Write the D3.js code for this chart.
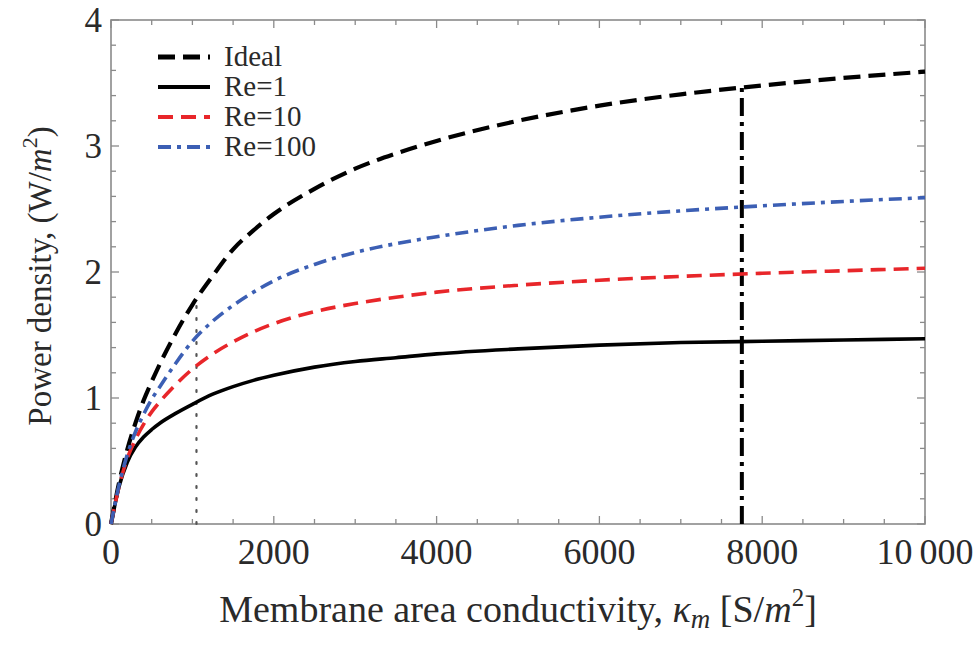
<!DOCTYPE html>
<html>
<head>
<meta charset="utf-8">
<script src="https://cdn.jsdelivr.net/npm/d3@7"></script>
<style>
  html, body { margin: 0; padding: 0; background: #fff; }
  svg { display: block; }
  text { font-family: "Liberation Serif", "DejaVu Serif", serif; fill: #2a2a2a; }
</style>
</head>
<body>
<svg id="chart" width="979" height="646"></svg>
<script>
// ---- data ----
const conductivity = [0, 100, 200, 300, 400, 500, 600, 800, 1000, 1250, 1500, 1750, 2000, 2500, 3000, 3500, 4000, 5000, 6000, 7000, 8000, 9000, 10000];
const ideal   = [0, 0.33, 0.59, 0.80, 0.98, 1.13, 1.27, 1.52, 1.74, 1.97, 2.18, 2.33, 2.46, 2.66, 2.82, 2.94, 3.04, 3.20, 3.32, 3.41, 3.48, 3.54, 3.59];
const re1     = [0, 0.30, 0.49, 0.61, 0.69, 0.75, 0.80, 0.88, 0.95, 1.03, 1.09, 1.14, 1.18, 1.245, 1.29, 1.32, 1.35, 1.39, 1.42, 1.44, 1.45, 1.46, 1.47];
const re10    = [0, 0.30, 0.52, 0.67, 0.79, 0.89, 0.97, 1.11, 1.23, 1.35, 1.445, 1.525, 1.59, 1.685, 1.75, 1.80, 1.84, 1.895, 1.935, 1.965, 1.99, 2.01, 2.03];
const re100   = [0, 0.31, 0.55, 0.73, 0.87, 0.99, 1.09, 1.28, 1.45, 1.61, 1.735, 1.84, 1.93, 2.06, 2.155, 2.225, 2.28, 2.37, 2.435, 2.485, 2.525, 2.56, 2.59];
const seriesNames = ["Ideal", "Re=1", "Re=10", "Re=100"];
const markerK   = [1050, 7750];
const markerTop = [1.80, 3.47];
const xTickValues = [0, 2000, 4000, 6000, 8000, 10000];
const xTickLabels = ["0", "2000", "4000", "6000", "8000", "10\u2009000"];
const yTickValues = [0, 1, 2, 3, 4];
const yTickLabels = ["0", "1", "2", "3", "4"];

// ---- styles ----
const styles = {
  "Ideal":  { color: "#000000", width: 4.2, dash: "17,8" },
  "Re=1":   { color: "#000000", width: 3.6, dash: null },
  "Re=10":  { color: "#e8262a", width: 3.6, dash: "15,8" },
  "Re=100": { color: "#3c5fb4", width: 3.6, dash: "13,6,4,6" }
};
const seriesValues = [ideal, re1, re10, re100];

const svg = d3.select("#chart");
const m = { left: 111, right: 925, top: 20, bottom: 524 };
const x = d3.scaleLinear().domain([0, 10000]).range([m.left, m.right]);
const y = d3.scaleLinear().domain([0, 4]).range([m.bottom, m.top]);

const frameColor = "#8a8a8a";

// frame
svg.append("rect")
  .attr("x", m.left).attr("y", m.top)
  .attr("width", m.right - m.left).attr("height", m.bottom - m.top)
  .attr("fill", "none").attr("stroke", frameColor).attr("stroke-width", 1.6);

// ticks (inward, all sides)
const xMinor = d3.range(0, 10001, 500);
const yMinor = d3.range(0, 4.001, 0.2).map(v => +v.toFixed(1));
const tk = svg.append("g").attr("stroke", frameColor).attr("stroke-width", 1.3);
xMinor.forEach(v => {
  const major = v % 2000 === 0;
  const L = major ? 8 : 5;
  tk.append("line").attr("x1", x(v)).attr("x2", x(v)).attr("y1", m.bottom).attr("y2", m.bottom - L);
  tk.append("line").attr("x1", x(v)).attr("x2", x(v)).attr("y1", m.top).attr("y2", m.top + L);
});
yMinor.forEach(v => {
  const major = Math.abs(v - Math.round(v)) < 1e-6;
  const L = major ? 8 : 5;
  tk.append("line").attr("y1", y(v)).attr("y2", y(v)).attr("x1", m.left).attr("x2", m.left + L);
  tk.append("line").attr("y1", y(v)).attr("y2", y(v)).attr("x1", m.right).attr("x2", m.right - L);
});

// tick labels
svg.append("g").selectAll("text").data(xTickValues).join("text")
  .attr("x", d => x(d)).attr("y", 564)
  .attr("text-anchor", "middle")
  .attr("font-size", 36)
  .text((d, i) => xTickLabels[i]);
svg.append("g").selectAll("text").data(yTickValues).join("text")
  .attr("x", 102).attr("y", d => y(d) + 12)
  .attr("text-anchor", "end")
  .attr("font-size", 35)
  .text((d, i) => yTickLabels[i]);

// marker lines
svg.append("line")
  .attr("x1", x(markerK[0])).attr("x2", x(markerK[0]))
  .attr("y1", y(0)).attr("y2", y(markerTop[0]))
  .attr("stroke", "#555").attr("stroke-width", 2.2)
  .attr("stroke-dasharray", "2,10").attr("stroke-linecap", "round");
svg.append("line")
  .attr("x1", x(markerK[1])).attr("x2", x(markerK[1]))
  .attr("y1", y(0)).attr("y2", y(markerTop[1]))
  .attr("stroke", "#000").attr("stroke-width", 4)
  .attr("stroke-dasharray", "18,6,4,6");

// curves
const line = d3.line()
  .x(d => x(d[0])).y(d => y(d[1]))
  .curve(d3.curveMonotoneX);
seriesNames.forEach((name, i) => {
  const s = styles[name];
  const pts = conductivity.map((k, j) => [k, seriesValues[i][j]]);
  svg.append("path")
    .datum(pts)
    .attr("d", line)
    .attr("fill", "none")
    .attr("stroke", s.color)
    .attr("stroke-width", s.width)
    .attr("stroke-dasharray", s.dash);
});

// legend
const lg = svg.append("g");
seriesNames.forEach((name, i) => {
  const s = styles[name];
  const yy = 57 + i * 30;
  lg.append("line").attr("x1", 158).attr("x2", 210).attr("y1", yy).attr("y2", yy)
    .attr("stroke", s.color).attr("stroke-width", s.width + 0.6)
    .attr("stroke-dasharray", s.dash);
  lg.append("text").attr("x", 224).attr("y", yy + 9).attr("font-size", 29).text(name);
});

// axis titles
const xt = svg.append("text")
  .attr("x", 518).attr("y", 622)
  .attr("text-anchor", "middle")
  .attr("font-size", 38);
xt.append("tspan").text("Membrane area conductivity, ");
xt.append("tspan").attr("font-style", "italic").text("\u03BA");
xt.append("tspan").attr("font-style", "italic").attr("font-size", 27).attr("dy", 6).text("m");
xt.append("tspan").attr("dy", -6).text(" [S/");
xt.append("tspan").attr("font-style", "italic").text("m");
xt.append("tspan").attr("font-size", 25).attr("dy", -16).text("2");
xt.append("tspan").attr("dy", 16).text("]");

const yt = svg.append("text")
  .attr("transform", "translate(51,276) rotate(-90)")
  .attr("text-anchor", "middle")
  .attr("font-size", 33);
yt.append("tspan").text("Power density, (W/");
yt.append("tspan").attr("font-style", "italic").text("m");
yt.append("tspan").attr("font-size", 22).attr("dy", -14).text("2");
yt.append("tspan").attr("dy", 14).text(")");
</script>
</body>
</html>
